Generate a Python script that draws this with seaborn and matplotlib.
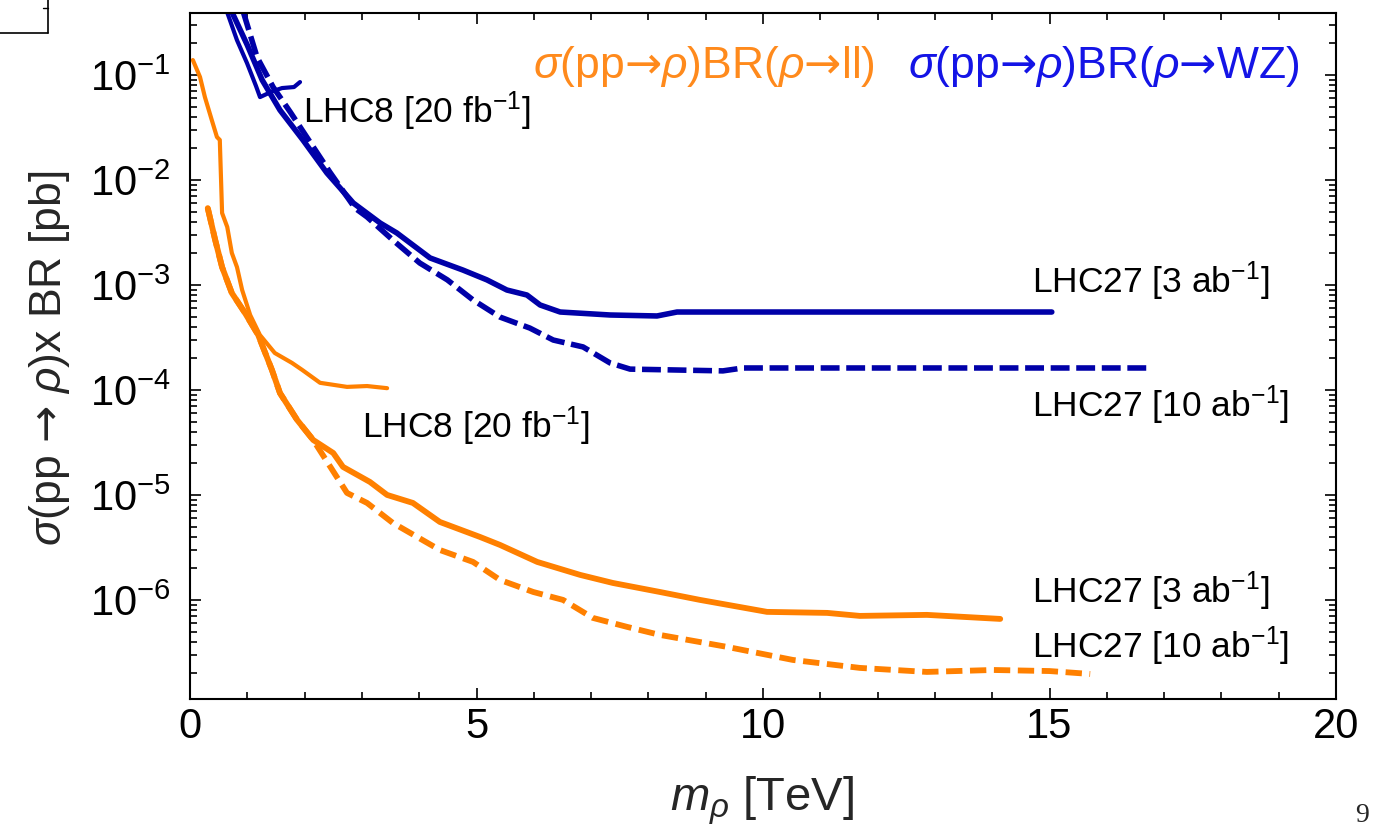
import numpy as np
import pandas as pd
import matplotlib
matplotlib.use("Agg")
import matplotlib.pyplot as plt
import seaborn as sns
from matplotlib.ticker import NullFormatter, MultipleLocator, FixedLocator, LogFormatterSciNotation
from matplotlib.lines import Line2D

# ---------------- data (m_rho in TeV, sigma x BR in pb) ----------------
wz_lhc8_m = [0.646, 0.82, 0.995, 1.152, 1.222, 1.449, 1.606, 1.815, 1.92]
wz_lhc8_xs = [0.40, 0.215, 0.130, 0.0786, 0.0617, 0.0704, 0.0752, 0.0769, 0.0858]

wz_lhc27_3_m = [0.73, 1.00, 1.26, 1.57, 1.97, 2.39, 2.85, 3.32, 3.61, 4.19, 4.76, 5.18,
                5.53, 5.88, 6.11, 6.46, 7.33, 8.15, 8.50, 15.04]
wz_lhc27_3_xs = [0.40, 0.193, 0.0896, 0.0464, 0.0241, 0.01166, 0.00604, 0.00389, 0.00313,
                 0.00181, 0.00139, 0.00112, 0.000896, 0.000803, 0.000645, 0.000553,
                 0.000518, 0.000507, 0.000553, 0.000553]

wz_lhc27_10_m = [0.93, 1.17, 1.45, 1.75, 2.44, 2.88, 3.09, 3.54, 4.01, 4.49, 4.94, 5.41,
                 5.93, 6.34, 6.86, 7.33, 7.68, 9.30, 9.65, 16.70]
wz_lhc27_10_xs = [0.40, 0.148, 0.0769, 0.0444, 0.0119, 0.0054, 0.00445, 0.00268, 0.00162,
                  0.00112, 0.00072, 0.000495, 0.000389, 0.000299, 0.000257, 0.000181,
                  0.000158, 0.000152, 0.000162, 0.000162]

ll_lhc8_m = [0.05, 0.175, 0.26, 0.38, 0.47, 0.52, 0.56, 0.65, 0.73, 0.82, 0.91, 1.05,
             1.22, 1.48, 1.78, 1.96, 2.27, 2.74, 3.09, 3.44]
ll_lhc8_xs = [0.139, 0.0957, 0.0617, 0.0373, 0.0257, 0.0241, 0.00485, 0.00357, 0.00202,
              0.00148, 0.000896, 0.000518, 0.000334, 0.000225, 0.000181, 0.000155,
              0.000117, 0.000107, 0.000109, 0.000104]

ll_lhc27_3_m = [0.31, 0.44, 0.56, 0.73, 0.96, 1.19, 1.43, 1.57, 1.87, 2.15, 2.50, 2.67,
                3.14, 3.44, 3.89, 4.36, 5.06, 5.41, 6.06, 6.81, 7.38, 8.20, 8.90, 10.07,
                11.12, 11.69, 12.86, 14.14]
ll_lhc27_3_xs = [0.0054, 0.00268, 0.00148, 0.000839, 0.000541, 0.000334, 0.000155, 9.35e-5,
                 5.18e-5, 3.34e-5, 2.51e-5, 1.85e-5, 1.33e-5, 1.0e-5, 8.39e-6, 5.53e-6,
                 3.98e-6, 3.34e-6, 2.30e-6, 1.73e-6, 1.45e-6, 1.19e-6, 1.0e-6, 7.69e-7,
                 7.52e-7, 7.04e-7, 7.2e-7, 6.59e-7]

ll_lhc27_10_m = [0.31, 0.44, 0.56, 0.73, 0.96, 1.19, 1.43, 1.57, 1.87, 2.15, 2.74, 3.09,
                 3.54, 4.36, 4.94, 5.41, 5.99, 6.51, 7.03, 7.63, 8.20, 9.37, 10.52, 11.69,
                 12.86, 14.01, 15.0, 15.71]
ll_lhc27_10_xs = [0.0054, 0.00268, 0.00148, 0.000839, 0.000541, 0.000334, 0.000155, 9.35e-5,
                  5.18e-5, 3.34e-5, 1.045e-5, 8.39e-6, 5.41e-6, 2.99e-6, 2.30e-6, 1.55e-6,
                  1.19e-6, 1.0e-6, 6.74e-7, 5.53e-7, 4.64e-7, 3.57e-7, 2.68e-7, 2.25e-7,
                  2.06e-7, 2.15e-7, 2.1e-7, 1.97e-7]

x_ticks = [0, 5, 10, 15, 20]
y_ticks = [1e-6, 1e-5, 1e-4, 1e-3, 1e-2, 1e-1]
y_minor = [k * 10.0 ** e for e in range(-7, 0) for k in range(2, 10)]

# ---------------- style ----------------
sns.set_theme(style="ticks")
plt.rcParams["font.family"] = ["Liberation Sans", "DejaVu Sans"]
plt.rcParams["mathtext.fontset"] = "custom"
plt.rcParams["mathtext.rm"] = "Liberation Sans"
plt.rcParams["mathtext.it"] = "Liberation Sans:italic"
plt.rcParams["mathtext.bf"] = "Liberation Sans:bold"
plt.rcParams["mathtext.sf"] = "DejaVu Sans"

ORANGE = "#FF8000"
BLUE = "#0000A8"
ORANGE_TXT = "#FF8A1C"
BLUE_TXT = "#1414E6"
ARROW = r"$\mathsf{→}$"

W, H = 1381, 830
fig = plt.figure(figsize=(W / 100, H / 100), dpi=100)
ax = fig.add_axes([190 / W, 1 - 698.5 / H, (1336 - 190) / W, (698.5 - 13.5) / H])
ax.set_yscale("log")


def draw(m, xs, color, lw, ls="-"):
    df = pd.DataFrame({"m": m, "xs": xs})
    sns.lineplot(data=df, x="m", y="xs", ax=ax, color=color, linewidth=lw,
                 linestyle=ls, sort=False, estimator=None, legend=False)


draw(ll_lhc8_m, ll_lhc8_xs, ORANGE, 3.0)
draw(ll_lhc27_10_m, ll_lhc27_10_xs, ORANGE, 4.2, (0, (2.8, 1.3)))
draw(ll_lhc27_3_m, ll_lhc27_3_xs, ORANGE, 4.2)
draw(wz_lhc8_m, wz_lhc8_xs, BLUE, 3.0)
draw(wz_lhc27_10_m, wz_lhc27_10_xs, BLUE, 4.0, (0, (3.4, 1.2)))
draw(wz_lhc27_3_m, wz_lhc27_3_xs, BLUE, 4.0)

ax.set_xlim(0, 20)
ax.set_ylim(1.15e-7, 0.386)
ax.set_xlabel("")
ax.set_ylabel("")

ax.xaxis.set_major_locator(FixedLocator(x_ticks))
ax.xaxis.set_minor_locator(MultipleLocator(1))
ax.yaxis.set_major_locator(FixedLocator(y_ticks))
ax.yaxis.set_major_formatter(LogFormatterSciNotation())
ax.yaxis.set_minor_locator(FixedLocator([v for v in y_minor if 1.15e-7 <= v <= 0.386]))
ax.yaxis.set_minor_formatter(NullFormatter())

ax.tick_params(which="both", direction="in", top=True, right=True, width=1.2, color="black")
ax.tick_params(which="major", length=8)
ax.tick_params(which="minor", length=5)
ax.tick_params(axis="x", labelsize=30, pad=6, colors="black")
ax.tick_params(axis="y", labelsize=30, pad=14, colors="black")
for s in ax.spines.values():
    s.set_linewidth(1.5)
    s.set_color("black")

# annotations
ANN = 25.5
ax.text(1.97, 0.0349, "LHC8 [20 fb$^{-1}$]", fontsize=ANN, color="black")
ax.text(3.0, 3.49e-5, "LHC8 [20 fb$^{-1}$]", fontsize=ANN, color="black")
ax.text(14.69, 8.4e-4, "LHC27 [3 ab$^{-1}$]", fontsize=ANN, color="black")
ax.text(14.69, 5.53e-5, "LHC27 [10 ab$^{-1}$]", fontsize=ANN, color="black")
ax.text(14.69, 9.36e-7, "LHC27 [3 ab$^{-1}$]", fontsize=ANN, color="black")
ax.text(14.69, 2.8e-7, "LHC27 [10 ab$^{-1}$]", fontsize=ANN, color="black")

ax.text(5.99, 0.0936, r"$\sigma$(pp" + ARROW + r"$\rho$)BR($\rho$" + ARROW + "ll)",
        fontsize=32, color=ORANGE_TXT)
ax.text(12.53, 0.0936, r"$\sigma$(pp" + ARROW + r"$\rho$)BR($\rho$" + ARROW + "WZ)",
        fontsize=32, color=BLUE_TXT)

fig.text(50 / W, 1 - 358 / H, r"$\sigma$(pp " + ARROW + r" $\rho$)x BR [pb]", rotation=90,
         ha="center", va="center", fontsize=32)
fig.text(762 / W, 1 - 801 / H, r"$m_\rho$ [TeV]", ha="center", va="center", fontsize=34)

# page decorations
fig.text(1362 / W, 1 - 815 / H, "9", family="Liberation Serif", fontsize=20,
         ha="center", va="center")
fig.add_artist(Line2D([0, 48 / W], [1 - 33 / H, 1 - 33 / H], color="black", lw=1.2))
fig.add_artist(Line2D([48 / W, 48 / W], [1, 1 - 33 / H], color="black", lw=1.2))
fig.add_artist(Line2D([43 / W, 48 / W], [1 - 8 / H, 1 - 8 / H], color="black", lw=1.0))

fig.savefig("out.png", dpi=100)
